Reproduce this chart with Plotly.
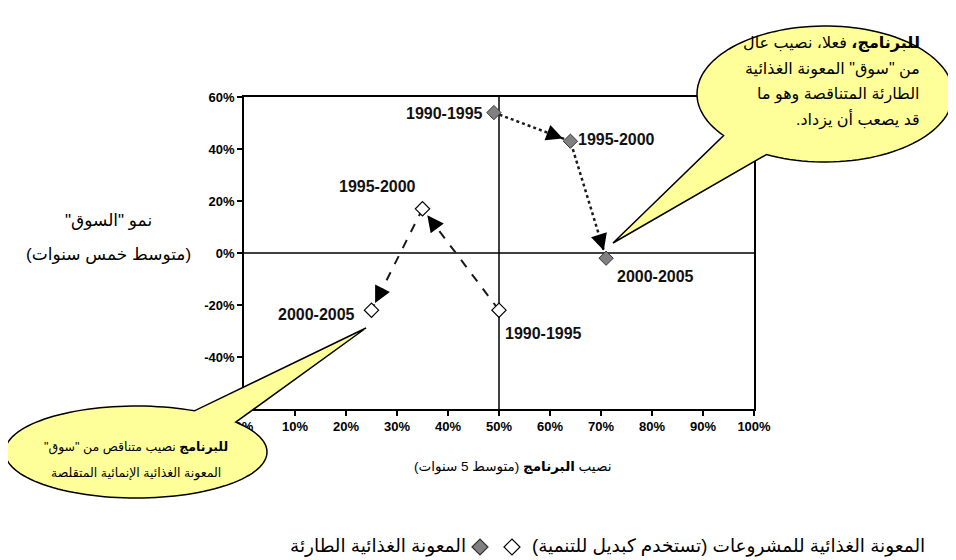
import numpy as np
import plotly.graph_objects as go

# ---------------- data ----------------
periods = ["1990-1995", "1995-2000", "2000-2005"]
emergency_share = [49, 64, 71]      # programme share (%)
emergency_growth = [54, 43, -2]     # market growth (%)
project_share = [50, 35, 25]
project_growth = [-22, 17, -22]
ref_share = 50
ref_growth = 0
x_ticks = [0, 10, 20, 30, 40, 50, 60, 70, 80, 90, 100]
y_ticks = [-60, -40, -20, 0, 20, 40, 60]
x_tick_labels = [f"{v}%" for v in x_ticks]
y_tick_labels = [f"{v}%" for v in y_ticks]

RLM = "\u200f"
def rtl(s):
    return RLM + s + RLM

legend_emergency = "المعونة الغذائية الطارئة"
legend_project = "المعونة الغذائية للمشروعات (تستخدم كبديل للتنمية)"
y_title_lines = ['نمو "السوق"', "(متوسط خمس سنوات)"]
x_title = "نصيب <b>البرنامج</b> (متوسط 5 سنوات)"
top_note = ["<b>للبرنامج،</b> فعلا، نصيب عال", 'من "سوق" المعونة الغذائية',
            "الطارئة المتناقصة وهو ما", "قد يصعب أن يزداد."]
bottom_note = ['<b>للبرنامج</b> نصيب متناقص من "سوق"',
               "المعونة الغذائية الإنمائية المتقلصة"]

# ---------------- layout geometry (reference pixel space) ----------------
PAGE_OFF = 8                      # default body margin of the html page
PAGE_W, PAGE_H = 956, 560
W, H = PAGE_W - PAGE_OFF, PAGE_H - PAGE_OFF
X0, X1, Y0, Y1 = 244, 754, 97, 409    # plot area in page pixels
L, T = X0 - PAGE_OFF, Y0 - PAGE_OFF
R, B = PAGE_W - X1, PAGE_H - Y1
PW, PH = X1 - X0, Y1 - Y0
XR = [0, 100]
YR = [-60, 60]
SX = PW / (XR[1] - XR[0])
SY = PH / (YR[1] - YR[0])

def px(x):
    return (x - X0) / PW

def py(y):
    return (Y1 - y) / PH

FONT = "Arial, Liberation Sans, DejaVu Sans, sans-serif"

fig = go.Figure()

# connecting lines
fig.add_trace(go.Scatter(x=emergency_share, y=emergency_growth, mode="lines",
                         line=dict(color="#1a1a1a", width=2.5, dash="dot"),
                         hoverinfo="skip", showlegend=False))
fig.add_trace(go.Scatter(x=project_share, y=project_growth, mode="lines",
                         line=dict(color="#1a1a1a", width=2, dash="dash"),
                         hoverinfo="skip", showlegend=False))
# markers
fig.add_trace(go.Scatter(x=emergency_share, y=emergency_growth, mode="markers",
                         marker=dict(symbol="diamond", size=11, color="#808080",
                                     line=dict(color="#333333", width=1)),
                         name=legend_emergency, text=periods, showlegend=False))
fig.add_trace(go.Scatter(x=project_share, y=project_growth, mode="markers",
                         marker=dict(symbol="diamond", size=11, color="white",
                                     line=dict(color="black", width=1.2)),
                         name=legend_project, text=periods, showlegend=False))

annotations = []

# arrow heads
def add_arrows(xs, ys):
    for i in range(len(xs) - 1):
        dxp = (xs[i + 1] - xs[i]) * SX
        dyp = -(ys[i + 1] - ys[i]) * SY
        n = np.hypot(dxp, dyp)
        off = 22
        annotations.append(dict(
            x=xs[i + 1], y=ys[i + 1], xref="x", yref="y", text="",
            showarrow=True, arrowhead=2, arrowsize=2.2, arrowwidth=1.5,
            arrowcolor="black", standoff=8,
            ax=-dxp / n * off, ay=-dyp / n * off))

add_arrows(emergency_share, emergency_growth)
add_arrows(project_share, project_growth)

# point labels
lab_font = dict(family=FONT, size=16, color="#111111", weight="bold")
em_styles = [("right", -9, -1), ("left", 6, 1.5), ("left", 9, -18)]
pr_styles = [("left", 4, -23), ("center", -45, 22), ("right", -15, -4)]
for (xa, xs_, ys_), xv, yv, t in zip(em_styles, emergency_share, emergency_growth, periods):
    annotations.append(dict(x=xv, y=yv, xref="x", yref="y", text=t, showarrow=False,
                            xanchor=xa, yanchor="middle", xshift=xs_, yshift=ys_,
                            font=lab_font))
for (xa, xs_, ys_), xv, yv, t in zip(pr_styles, project_share, project_growth, periods):
    annotations.append(dict(x=xv, y=yv, xref="x", yref="y", text=t, showarrow=False,
                            xanchor=xa, yanchor="middle", xshift=xs_, yshift=ys_,
                            font=lab_font))

# axis titles
for txt, yy in zip(y_title_lines, [220, 254]):
    annotations.append(dict(x=px(108), y=py(yy), xref="paper", yref="paper",
                            text=rtl(txt), showarrow=False, xanchor="center",
                            yanchor="middle", font=dict(family=FONT, size=17, color="black")))
annotations.append(dict(x=px(512), y=py(467), xref="paper", yref="paper",
                        text=rtl(x_title), showarrow=False, xanchor="center",
                        yanchor="middle", font=dict(family=FONT, size=13.5, color="black")))

# callout texts
for txt, yy in zip(top_note, [43, 69, 94, 119]):
    annotations.append(dict(x=px(922), y=py(yy), xref="paper", yref="paper",
                            text=rtl(txt), showarrow=False, xanchor="right",
                            yanchor="middle", font=dict(family=FONT, size=16, color="black")))
for txt, yy in zip(bottom_note, [447, 473]):
    annotations.append(dict(x=px(136), y=py(yy), xref="paper", yref="paper",
                            text=rtl(txt), showarrow=False, xanchor="center",
                            yanchor="middle", font=dict(family=FONT, size=12.5, color="black")))

# legend
annotations.append(dict(x=px(468), y=py(546), xref="paper", yref="paper",
                        text=rtl(legend_emergency), showarrow=False, xanchor="right",
                        yanchor="middle", font=dict(family=FONT, size=18.5, color="black")))
annotations.append(dict(x=px(530), y=py(546), xref="paper", yref="paper",
                        text=rtl(legend_project), showarrow=False, xanchor="left",
                        yanchor="middle", font=dict(family=FONT, size=18.5, color="black")))

shapes = []
# reference cross lines
shapes.append(dict(type="line", xref="x", yref="y domain", x0=ref_share, x1=ref_share,
                   y0=0, y1=1, line=dict(color="black", width=1.5), layer="below"))
shapes.append(dict(type="line", xref="x domain", yref="y", x0=0, x1=1,
                   y0=ref_growth, y1=ref_growth, line=dict(color="black", width=1.5),
                   layer="below"))

# speech bubbles
def bubble(cx, cy, rx, ry, a_from, a_to, tip):
    angs = np.radians(np.linspace(a_from, a_to, 120))
    pts = [(cx + rx * np.cos(a), cy + ry * np.sin(a)) for a in angs]
    pts.append(tip)
    d = "M " + " L ".join(f"{px(x):.5f},{py(y):.5f}" for x, y in pts) + " Z"
    return dict(type="path", xref="paper", yref="paper", path=d,
                fillcolor="#ffff99", line=dict(color="black", width=1.5), layer="above")

shapes.append(bubble(825, 94, 128, 68, 142.4, 117.2 + 360, (613, 243)))
shapes.append(bubble(136, 452, 131, 46, -40.4, -63.5 + 360, (366, 328)))

# legend diamonds
def diamond(cx, cy, h, fill, lc):
    d = (f"M {px(cx-h)},{py(cy)} L {px(cx)},{py(cy-h)} L {px(cx+h)},{py(cy)} "
         f"L {px(cx)},{py(cy+h)} Z")
    return dict(type="path", xref="paper", yref="paper", path=d, fillcolor=fill,
                line=dict(color=lc, width=1.2), layer="above")

shapes.append(diamond(480, 547, 8, "#808080", "#333333"))
shapes.append(diamond(512, 547, 8, "white", "black"))

axis_common = dict(showline=True, linecolor="black", linewidth=1.5, mirror=True,
                   ticks="outside", ticklen=5, tickwidth=1.5, tickcolor="black",
                   showgrid=False, zeroline=False,
                   tickfont=dict(family=FONT, size=13, color="black", weight="bold"))

fig.update_layout(
    width=W, height=H,
    margin=dict(l=L, r=R, t=T, b=B, autoexpand=False),
    paper_bgcolor="white", plot_bgcolor="white",
    font=dict(family=FONT),
    xaxis=dict(range=XR, tickvals=x_ticks, ticktext=x_tick_labels, **axis_common),
    yaxis=dict(range=YR, tickvals=y_ticks, ticktext=y_tick_labels, **axis_common),
    annotations=annotations,
    shapes=shapes,
    showlegend=False,
)

fig.write_html("out.html")
